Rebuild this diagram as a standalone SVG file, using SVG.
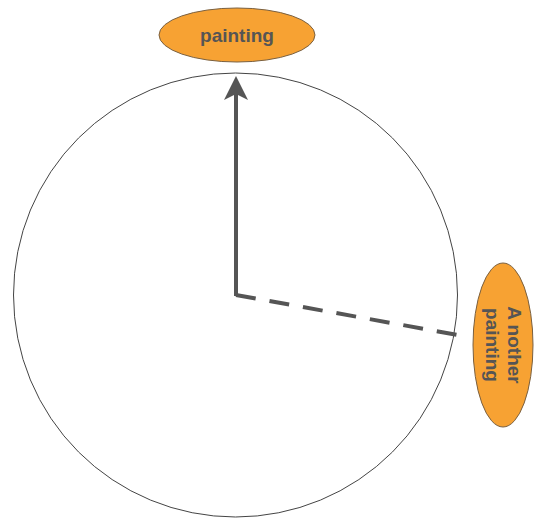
<svg xmlns="http://www.w3.org/2000/svg" width="534" height="520" viewBox="0 0 534 520">
<style>
.node{fill:#f7a233;stroke:#7a6040;stroke-width:1}
.lbl{font-family:"Liberation Sans",Arial,sans-serif;font-weight:bold;font-size:19px;fill:#555;text-anchor:middle}
.conn{stroke:#555;stroke-width:4;fill:none}
</style>
<defs>
<marker id="ah" markerWidth="6" markerHeight="6" refX="5" refY="3" orient="auto" markerUnits="strokeWidth">
<path d="M0,0 L6,3 L0,6 L1.5,3 Z" fill="#555"/>
</marker>
</defs>
<rect width="534" height="520" fill="#fff"/>
<g id="circle"><circle cx="235.5" cy="295" r="222" fill="none" stroke="#444" stroke-width="1"/></g>
<g id="connectors">
<line class="conn" x1="236" y1="296" x2="236" y2="80" marker-end="url(#ah)"/>
<line class="conn" x1="236" y1="295" x2="458" y2="335" stroke-dasharray="20,14"/>
</g>
<g id="painting">
<ellipse class="node" cx="237" cy="35" rx="78" ry="27"/>
<text class="lbl" x="237" y="42">painting</text>
</g>
<g id="another-painting">
<ellipse class="node" cx="503" cy="345" rx="30" ry="82"/>
<text class="lbl" transform="translate(503,345) rotate(90)" x="0" y="-5">A nother</text>
<text class="lbl" transform="translate(503,345) rotate(90)" x="0" y="17">painting</text>
</g>
</svg>
